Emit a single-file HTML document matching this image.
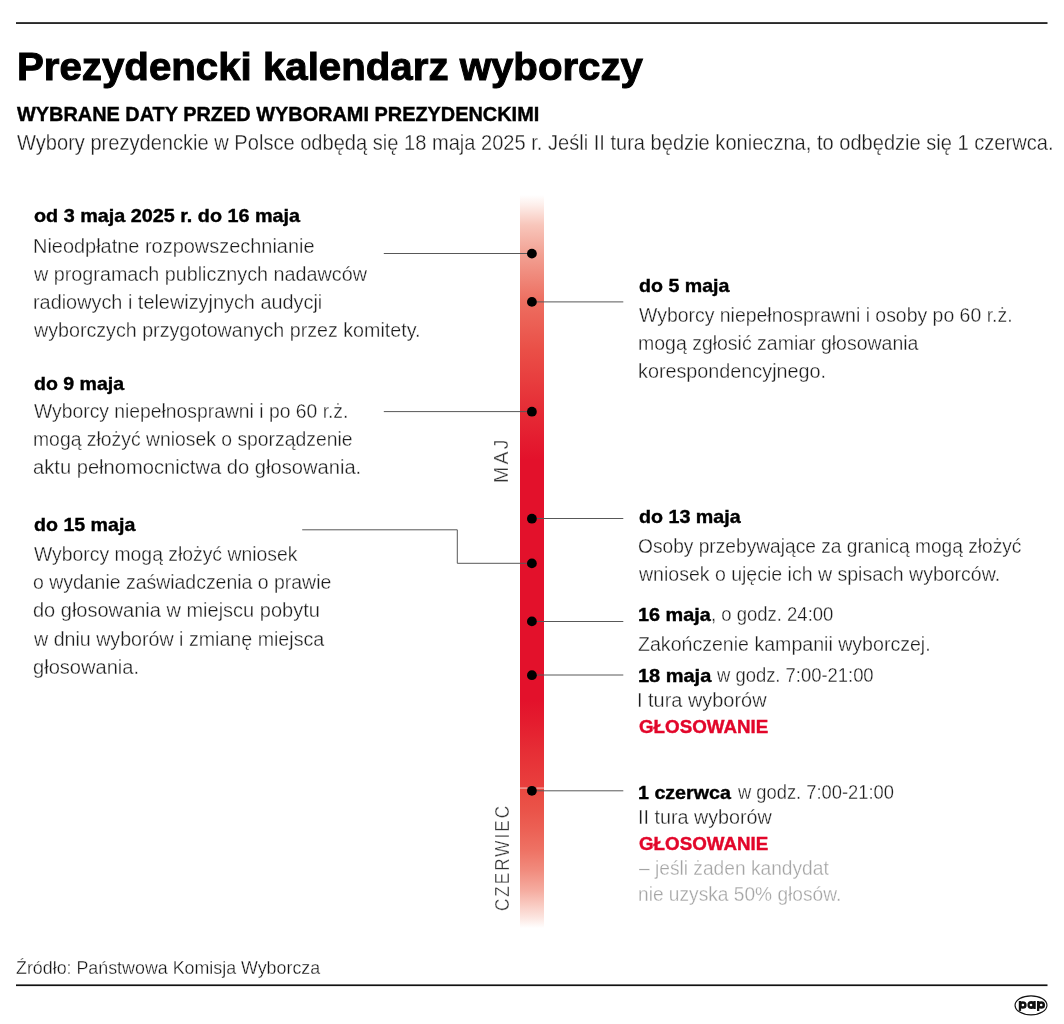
<!DOCTYPE html>
<html lang="pl">
<head>
<meta charset="utf-8">
<title>Prezydencki kalendarz wyborczy</title>
<style>
html,body{margin:0;padding:0;background:#fff;}
body{width:1064px;height:1024px;position:relative;overflow:hidden;font-family:"Liberation Sans",sans-serif;}
.gfx{position:absolute;left:0;top:0;}
.txt{position:absolute;left:0;top:0;width:1064px;height:1024px;will-change:transform;}
.t{position:absolute;white-space:nowrap;transform-origin:0 0;line-height:1;margin:0;-webkit-text-stroke:0.3px #fff;}
.t b{-webkit-text-stroke:0.4px currentColor;}
#title b{-webkit-text-stroke:1px #000;}
#sub b{-webkit-text-stroke:0.4px #000;}
.v{position:absolute;white-space:nowrap;line-height:1;transform-origin:0 0;letter-spacing:0.12em;color:#333;-webkit-text-stroke:0.3px #fff;}
</style>
</head>
<body>
<svg class="gfx" width="1064" height="1024" viewBox="0 0 1064 1024">
<defs><linearGradient id="bg" x1="0" y1="0" x2="0" y2="1">
<stop offset="0.0000" stop-color="#ffffff"/>
<stop offset="0.0136" stop-color="#fdeeea"/>
<stop offset="0.0408" stop-color="#f8c6bb"/>
<stop offset="0.0816" stop-color="#f2a092"/>
<stop offset="0.1429" stop-color="#ed6f61"/>
<stop offset="0.2109" stop-color="#ea4f47"/>
<stop offset="0.2857" stop-color="#e62f37"/>
<stop offset="0.3605" stop-color="#e3112b"/>
<stop offset="0.6871" stop-color="#e3112b"/>
<stop offset="0.7143" stop-color="#e41b2e"/>
<stop offset="0.7551" stop-color="#e62d35"/>
<stop offset="0.7891" stop-color="#e83a3b"/>
<stop offset="0.8061" stop-color="#e9403d"/>
<stop offset="0.8063" stop-color="#e94840"/>
<stop offset="0.8367" stop-color="#ea5349"/>
<stop offset="0.8639" stop-color="#ec6155"/>
<stop offset="0.8912" stop-color="#ee7264"/>
<stop offset="0.9184" stop-color="#f18b7d"/>
<stop offset="0.9456" stop-color="#f5ab9f"/>
<stop offset="0.9660" stop-color="#f9cbc2"/>
<stop offset="0.9837" stop-color="#fce6e1"/>
<stop offset="0.9973" stop-color="#ffffff"/>
<stop offset="1.0000" stop-color="#ffffff"/>
</linearGradient></defs>
<rect x="520" y="195" width="24" height="735" fill="url(#bg)"/>
<rect x="520" y="787.6" width="24" height="0.9" fill="#fff" opacity="0.75"/>
<rect x="16" y="22.2" width="1031.5" height="1.7" fill="#111"/>
<rect x="16" y="984.4" width="1031.5" height="1.7" fill="#111"/>
<line x1="383.8" y1="253.5" x2="532" y2="253.5" stroke="#585858" stroke-width="1"/>
<line x1="532" y1="301.9" x2="623.3" y2="301.9" stroke="#585858" stroke-width="1"/>
<line x1="383.8" y1="411.6" x2="532" y2="411.6" stroke="#585858" stroke-width="1"/>
<line x1="532" y1="518.5" x2="623.3" y2="518.5" stroke="#585858" stroke-width="1"/>
<polyline points="302.2,529.8 457.3,529.8 457.3,563.3 532,563.3" fill="none" stroke="#585858" stroke-width="1"/>
<line x1="532" y1="621.5" x2="623.3" y2="621.5" stroke="#585858" stroke-width="1"/>
<line x1="532" y1="675" x2="623.3" y2="675" stroke="#585858" stroke-width="1"/>
<line x1="532" y1="790.8" x2="623.3" y2="790.8" stroke="#585858" stroke-width="1"/>
<circle cx="531.9" cy="253.6" r="4.9" fill="#000"/>
<circle cx="531.9" cy="301.9" r="4.9" fill="#000"/>
<circle cx="531.9" cy="411.7" r="4.9" fill="#000"/>
<circle cx="531.9" cy="518.7" r="4.9" fill="#000"/>
<circle cx="531.9" cy="563.4" r="4.9" fill="#000"/>
<circle cx="531.9" cy="621.4" r="4.9" fill="#000"/>
<circle cx="531.9" cy="675.2" r="4.9" fill="#000"/>
<circle cx="531.9" cy="790.8" r="4.9" fill="#000"/>
<g fill="#111"><ellipse cx="1031" cy="1005.35" rx="15.95" ry="9.55" fill="#fff" stroke="#111" stroke-width="1.15"/><rect x="1018.8" y="1001" width="2.3" height="9.9"/><circle cx="1022.8" cy="1005" r="3.85"/><rect x="1033.4" y="1001" width="2.3" height="8"/><circle cx="1031.3" cy="1005" r="3.9"/><rect x="1037" y="1001" width="2.3" height="10"/><circle cx="1041.2" cy="1005" r="3.85"/><circle cx="1022.9" cy="1005" r="1.3" fill="#fff"/><circle cx="1031" cy="1005" r="1.3" fill="#fff"/><circle cx="1041.2" cy="1005" r="1.3" fill="#fff"/></g>
</svg>
<div class="txt">
<div class="t" id="title" style="left:17.46px;top:47px;font-size:39.5px;color:#000;transform:scaleX(1.0183)"><b>Prezydencki kalendarz wyborczy</b></div>
<div class="t" id="sub" style="left:17.40px;top:104px;font-size:20.5px;color:#000;transform:scaleX(0.9708)"><b>WYBRANE DATY PRZED WYBORAMI PREZYDENCKIMI</b></div>
<div class="t" id="intro" style="left:17.40px;top:132px;font-size:22px;color:#1c1c1c;transform:scaleX(0.9125)">Wybory prezydenckie w Polsce odbędą się 18 maja 2025 r. Jeśli II tura będzie konieczna, to odbędzie się 1 czerwca.</div>
<div class="t" id="l1h" style="left:33.70px;top:206px;font-size:19px;color:#000;transform:scaleX(1.0410)"><b>od 3 maja 2025 r. do 16 maja</b></div>
<div class="t" id="l1a" style="left:33.06px;top:237px;font-size:19.5px;color:#1c1c1c;transform:scaleX(1.0224)">Nieodpłatne rozpowszechnianie</div>
<div class="t" id="l1b" style="left:33.70px;top:265px;font-size:19.5px;color:#1c1c1c;transform:scaleX(1.0137)">w programach publicznych nadawców</div>
<div class="t" id="l1c" style="left:33.48px;top:293px;font-size:19.5px;color:#1c1c1c;transform:scaleX(1.0185)">radiowych i telewizyjnych audycji</div>
<div class="t" id="l1d" style="left:33.70px;top:321px;font-size:19.5px;color:#1c1c1c;transform:scaleX(1.0084)">wyborczych przygotowanych przez komitety.</div>
<div class="t" id="l2h" style="left:33.70px;top:374px;font-size:19px;color:#000;transform:scaleX(1.0284)"><b>do 9 maja</b></div>
<div class="t" id="l2a" style="left:33.70px;top:402px;font-size:19.5px;color:#1c1c1c;transform:scaleX(0.9905)">Wyborcy niepełnosprawni i po 60 r.ż.</div>
<div class="t" id="l2b" style="left:33.11px;top:430px;font-size:19.5px;color:#1c1c1c;transform:scaleX(0.9925)">mogą złożyć wniosek o sporządzenie</div>
<div class="t" id="l2c" style="left:32.67px;top:458px;font-size:19.5px;color:#1c1c1c;transform:scaleX(1.0333)">aktu pełnomocnictwa do głosowania.</div>
<div class="t" id="l3h" style="left:33.70px;top:515px;font-size:19px;color:#000;transform:scaleX(1.0313)"><b>do 15 maja</b></div>
<div class="t" id="l3a" style="left:33.70px;top:545px;font-size:19.5px;color:#1c1c1c;transform:scaleX(0.9925)">Wyborcy mogą złożyć wniosek</div>
<div class="t" id="l3b" style="left:32.70px;top:573px;font-size:19.5px;color:#1c1c1c;transform:scaleX(0.9970)">o wydanie zaświadczenia o prawie</div>
<div class="t" id="l3c" style="left:32.67px;top:601px;font-size:19.5px;color:#1c1c1c;transform:scaleX(1.0256)">do głosowania w miejscu pobytu</div>
<div class="t" id="l3d" style="left:33.70px;top:630px;font-size:19.5px;color:#1c1c1c;transform:scaleX(1.0066)">w dniu wyborów i zmianę miejsca</div>
<div class="t" id="l3e" style="left:32.67px;top:658px;font-size:19.5px;color:#1c1c1c;transform:scaleX(1.0300)">głosowania.</div>
<div class="t" id="r1h" style="left:638.70px;top:276px;font-size:19px;color:#000;transform:scaleX(1.0318)"><b>do 5 maja</b></div>
<div class="t" id="r1a" style="left:638.70px;top:306px;font-size:19.5px;color:#1c1c1c;transform:scaleX(0.9965)">Wyborcy niepełnosprawni i osoby po 60 r.ż.</div>
<div class="t" id="r1b" style="left:638.10px;top:334px;font-size:19.5px;color:#1c1c1c;transform:scaleX(0.9989)">mogą zgłosić zamiar głosowania</div>
<div class="t" id="r1c" style="left:638.09px;top:362px;font-size:19.5px;color:#1c1c1c;transform:scaleX(1.0142)">korespondencyjnego.</div>
<div class="t" id="r2h" style="left:638.70px;top:507px;font-size:19px;color:#000;transform:scaleX(1.0354)"><b>do 13 maja</b></div>
<div class="t" id="r2a" style="left:637.72px;top:537px;font-size:19.5px;color:#1c1c1c;transform:scaleX(0.9827)">Osoby przebywające za granicą mogą złożyć</div>
<div class="t" id="r2b" style="left:638.70px;top:565px;font-size:19.5px;color:#1c1c1c;transform:scaleX(1.0006)">wniosek o ujęcie ich w spisach wyborców.</div>
<div class="t" id="r3ab" style="left:638.36px;top:605px;font-size:19px;color:#000;transform:scaleX(1.0435)"><b>16 maja</b></div>
<div class="t" id="r3ar" style="left:710.80px;top:605px;font-size:19.5px;color:#1c1c1c;transform:scaleX(0.9484)">, o godz. 24:00</div>
<div class="t" id="r3b" style="left:637.90px;top:635px;font-size:19.5px;color:#1c1c1c;transform:scaleX(1.0038)">Zakończenie kampanii wyborczej.</div>
<div class="t" id="r4ab" style="left:638.35px;top:666px;font-size:19px;color:#000;transform:scaleX(1.0507)"><b>18 maja</b></div>
<div class="t" id="r4ar" style="left:716.90px;top:666px;font-size:19.5px;color:#1c1c1c;transform:scaleX(0.9442)">w godz. 7:00-21:00</div>
<div class="t" id="r4b" style="left:637.36px;top:691px;font-size:19.5px;color:#1c1c1c;transform:scaleX(1.0216)">I tura wyborów</div>
<div class="t" id="r4c" style="left:638.90px;top:717px;font-size:19px;color:#e2062a;transform:scaleX(0.9870)"><b>GŁOSOWANIE</b></div>
<div class="t" id="r5ab" style="left:638.37px;top:783px;font-size:19px;color:#000;transform:scaleX(1.0337)"><b>1 czerwca</b></div>
<div class="t" id="r5ar" style="left:737.50px;top:783px;font-size:19.5px;color:#1c1c1c;transform:scaleX(0.9406)">w godz. 7:00-21:00</div>
<div class="t" id="r5b" style="left:637.88px;top:808px;font-size:19.5px;color:#1c1c1c;transform:scaleX(1.0115)">II tura wyborów</div>
<div class="t" id="r5c" style="left:638.90px;top:834px;font-size:19px;color:#e2062a;transform:scaleX(0.9870)"><b>GŁOSOWANIE</b></div>
<div class="t" id="r5d" style="left:638.90px;top:859px;font-size:19.5px;color:#a4a4a4;transform:scaleX(0.9833)">– jeśli żaden kandydat</div>
<div class="t" id="r5e" style="left:638.12px;top:885px;font-size:19.5px;color:#a4a4a4;transform:scaleX(0.9819)">nie uzyska 50% głosów.</div>
<div class="t" id="src" style="left:16.28px;top:960px;font-size:17.5px;color:#111;transform:scaleX(1.0192)">Źródło: Państwowa Komisja Wyborcza</div>
<div class="v" id="maj" style="left:491.90px;top:483.29px;font-size:19.5px;transform:rotate(-90deg) scaleX(0.9950)">MAJ</div>
<div class="v" id="cze" style="left:492.50px;top:911.37px;font-size:19.5px;transform:rotate(-90deg) scaleX(0.8746)">CZERWIEC</div>
</div>
</body>
</html>
